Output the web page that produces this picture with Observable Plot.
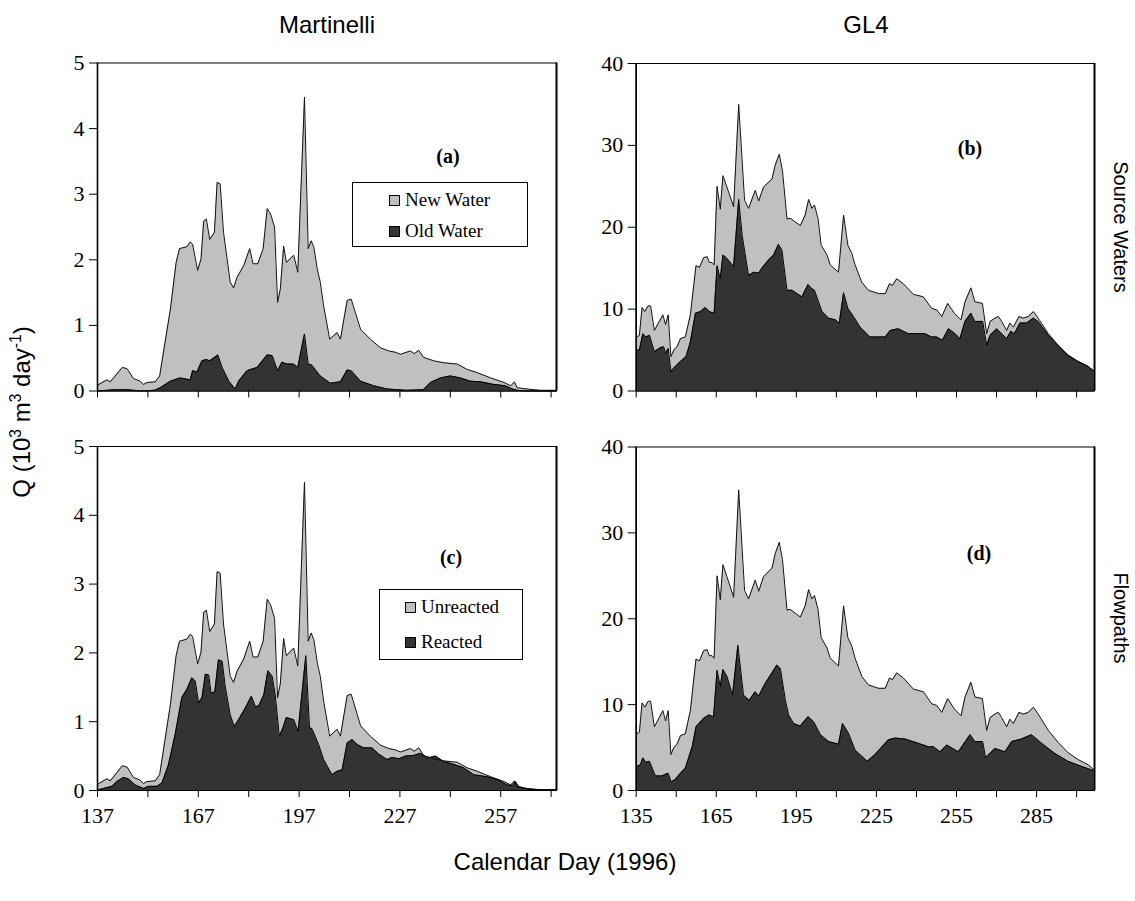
<!DOCTYPE html>
<html><head><meta charset="utf-8">
<script src="https://cdn.jsdelivr.net/npm/d3@7"></script>
<script src="https://cdn.jsdelivr.net/npm/@observablehq/plot@0.6"></script>
<style>
body{margin:0;background:#fff;}
#wrap{position:relative;width:1135px;height:901px;overflow:hidden;background:#fff;}
.abs{position:absolute;white-space:nowrap;color:#000;}
.sans{font-family:"Liberation Sans",Arial,sans-serif;font-size:24px;}
.serif{font-family:"Liberation Serif","Times New Roman",serif;}
.legend{position:absolute;border:1px solid #000;background:#fff;box-sizing:border-box;}
.entry{position:absolute;display:flex;align-items:center;height:24px;font-family:"Liberation Serif","Times New Roman",serif;font-size:19px;white-space:nowrap;}
.sw{display:inline-block;width:11px;height:11px;border:1px solid #000;margin-right:5px;box-sizing:border-box;}
.lbl{font-family:"Liberation Serif","Times New Roman",serif;font-weight:bold;font-size:20px;transform:translate(-50%,-50%);}
sup{font-size:65%;vertical-align:super;line-height:0;}
</style></head><body><div id="wrap"></div>
<script>
// ---------- Martinelli (days 137–274) ----------
const martTotalDays = [137,139.8,140.8,144.4,145.8,147.7,149.7,150.7,151.7,154.2,155.5,158.7,160.4,161.4,163.6,164.6,165.3,166.8,167.8,168.6,169.4,170.4,171.8,172.6,173.5,174.5,176.5,177.5,178.5,180.5,182.3,183.3,184.7,186.3,187.5,188.5,189.7,190.6,191.4,192.4,193.2,195.4,196.6,198.6,199.7,200.6,201.4,202.4,203.3,204.3,206.1,208.3,209.3,211.3,212.5,215.3,218.2,221.2,223.7,225.7,227.2,230.1,231.3,232.6,234.1,237.1,240.1,244.1,247,250,254,258,260,261.1,261.9,264.9,268.9,273.5];
const martTotal = [0.09,0.17,0.14,0.36,0.34,0.19,0.15,0.10,0.13,0.14,0.23,1.25,1.96,2.17,2.20,2.27,2.24,1.84,2.01,2.59,2.62,2.31,2.42,3.18,3.16,2.42,1.66,1.57,1.73,1.91,2.17,1.94,1.94,2.17,2.78,2.70,2.50,1.35,1.55,2.21,1.96,2.07,1.81,4.48,2.17,2.29,2.19,1.86,1.66,1.30,0.79,0.89,0.79,1.38,1.40,0.94,0.79,0.66,0.61,0.59,0.56,0.61,0.57,0.62,0.51,0.46,0.43,0.41,0.33,0.28,0.20,0.13,0.08,0.14,0.05,0.03,0.01,0.01];

const martOldDays = [137,142,146,150,154,155.7,158.7,161.6,164.6,165.3,166.6,168.1,169.4,170.4,171.8,172.8,174.1,176.1,178.0,179.0,181.5,184.5,187.5,189.0,190.6,191.9,193.4,195.4,196.6,198.6,199.7,200.7,203.3,206.3,209.3,211.3,212.5,215.3,219.2,223.2,229,234,236.1,239.1,242,245,248,251,255,258.4,260.5,262,264,273.5];
const martOld = [0,0.02,0.02,0,0.01,0.05,0.15,0.20,0.17,0.31,0.29,0.46,0.48,0.46,0.51,0.55,0.36,0.15,0.03,0.15,0.31,0.36,0.55,0.54,0.31,0.44,0.41,0.41,0.36,0.87,0.41,0.40,0.23,0.12,0.14,0.32,0.31,0.15,0.08,0.03,0.01,0.02,0.13,0.20,0.23,0.20,0.15,0.14,0.10,0.08,0.03,0.01,0,0];

const martReactedDays = [137.3,138.8,141.3,142.8,144.7,146.2,148.2,150.7,152.2,154.7,156.2,158.1,160.1,162.1,163.6,165.1,166.1,167.1,168.1,169.1,170.1,170.8,171.9,173.0,174.1,175.0,176.5,177.7,179.0,181.0,182.8,184.0,185.0,186.5,187.7,189.0,189.9,191.1,192.2,193.2,195.4,196.7,199.0,200.1,200.8,202.8,204.3,206.8,208.3,209.8,211.3,212.8,214.3,216.2,218.7,220.7,223.2,224.7,226.7,228.7,231.1,233.1,235.1,237.6,240.1,243.0,246.0,249.0,253.0,256,259,260.5,261.4,262.3,264.9,268,273.5];
const martReacted = [0.01,0.03,0.06,0.13,0.19,0.17,0.08,0.03,0.06,0.06,0.11,0.37,0.81,1.35,1.47,1.64,1.59,1.27,1.35,1.69,1.68,1.42,1.43,1.90,1.88,1.52,1.10,0.93,1.03,1.20,1.37,1.22,1.23,1.39,1.74,1.66,1.39,0.79,0.91,1.06,1.03,0.86,1.96,0.91,0.90,0.67,0.45,0.23,0.28,0.30,0.69,0.74,0.67,0.62,0.62,0.53,0.45,0.48,0.46,0.50,0.51,0.54,0.47,0.50,0.42,0.38,0.33,0.23,0.20,0.16,0.08,0.07,0.13,0.06,0.02,0.01,0.01];

// ---------- GL4 (days 135–307) ----------
const glTotalDays = [135.2,136.2,137.2,138.2,139.5,140.4,141.8,143.5,145,146,147,148,149.1,150.3,151.6,153.4,155.3,157.4,158.7,160.3,161.6,162.4,163.4,164.2,165.3,166.5,167.5,169.0,171.5,173.4,175.6,177.1,179.6,180.9,182.7,185.9,187.1,188.6,189.8,191.5,192.7,196.5,198.3,199.6,200.8,201.8,203.1,204.3,206.5,207.7,210.8,212.7,214.3,215.8,217.0,219.5,222.0,225.8,228.3,229.9,231.0,232.6,235.1,238.9,242.6,245.7,247.6,249.5,251.7,254.2,256.7,258.2,260.4,261.9,264.7,266.3,267.6,269.4,270.7,271.9,273.8,275.0,276.3,278.4,280.0,281.9,283.8,285.6,289.4,293.1,296.8,300.6,304.3,306.6];
const glTotal = [6.6,6.8,10.2,9.7,10.4,10.4,7.4,8.4,9.3,8.1,9.3,4.2,5.0,5.4,6.4,6.6,9.3,15.3,15.1,16.3,16.4,15.7,15.7,15.4,25.0,22.2,26.3,24.9,22.5,35.0,23.3,22.3,24.5,23.2,24.9,25.9,27.6,28.9,26.9,21.0,21.1,20.2,21.5,23.4,22.3,22.7,21.1,17.8,16.6,15.4,14.5,21.5,17.8,16.8,15.4,13.3,12.3,11.9,11.9,13.1,12.9,13.7,13.1,11.8,11.5,10.1,9.9,9.1,10.7,9.5,8.7,10.9,12.6,10.9,10.7,7.0,8.5,8.9,9.1,8.5,7.4,8.3,7.8,9.1,8.9,9.1,9.7,8.9,7.0,5.6,4.4,3.6,3.0,2.4];

const glOldDays = [135.2,136.2,137.5,138.7,140.0,141.8,144.1,145.3,146.0,147.0,148.0,149.7,151.6,153.7,155.3,157.2,159.1,160.9,162.4,164.2,165.3,166.5,167.5,169.0,171.5,173.4,174.7,177.1,179.0,180.9,182.1,184.6,186.5,188.3,189.6,191.5,193.4,197.1,199.4,200.8,201.8,204.6,207.1,209.6,211.1,212.7,214.3,216.4,218.9,220.8,222.6,228.3,230.2,233.2,237.0,243.2,245.7,247.6,249.7,252.0,254.5,256.3,258.2,260.4,261.9,264.8,266.3,267.6,270.1,271.9,273.8,275.4,276.7,278.8,281.3,283.8,285.6,289.4,293.1,296.8,300.6,304.3,306.6];
const glOld = [5.0,5.0,7.0,6.6,6.8,4.8,5.3,5.4,4.6,5.2,2.4,3.0,3.6,4.2,6.0,9.5,9.7,10.2,9.7,9.5,15.3,13.7,16.6,16.2,15.2,23.4,19.0,14.1,14.5,14.4,15.0,16.0,16.6,17.9,17.2,12.3,12.3,11.5,13.0,12.5,12.3,9.7,8.9,8.7,8.3,12.0,10.1,9.1,7.8,7.2,6.6,6.6,7.4,7.6,7.0,7.0,6.6,6.6,6.2,7.6,7.0,6.4,8.5,9.5,8.5,8.5,5.6,6.8,7.6,7.0,6.4,7.3,7.0,8.3,8.3,8.9,8.5,6.8,5.5,4.3,3.6,3.0,2.4];

const glReactedDays = [135.2,136.6,137.5,138.5,140.0,141.0,142.2,144.7,146.0,147.0,148.1,149.7,151.6,153.4,156.0,157.4,160.3,162.2,164.0,165.3,166.5,167.5,169.0,171.1,173.1,175.2,177.4,179.6,180.9,183.4,185.9,187.7,189.0,190.9,192.1,194.0,196.5,199.4,201.5,204.0,207.1,210.8,212.3,214.5,217.0,219.5,221.6,224.5,229.5,232.0,235.7,240.7,244.5,246.4,248.9,251.4,255.7,260.1,261.9,264.8,265.9,269.4,273.2,275.7,279.4,283.1,286.9,291.9,296.8,301.9,306.6];
const glReacted = [2.8,3.0,3.8,3.3,3.4,2.6,1.7,1.7,1.9,2.0,1.0,1.3,2.0,2.6,5.1,7.4,8.4,8.8,8.6,14.0,12.1,14.1,13.3,11.1,16.9,11.1,10.5,11.5,11.0,12.5,13.7,14.6,14.2,10.5,8.8,7.8,7.5,8.6,8.0,6.5,5.7,5.4,7.8,6.7,4.7,4.0,3.4,4.2,5.9,6.1,6.0,5.5,5.1,5.1,4.5,5.3,4.5,6.5,5.7,5.7,3.8,4.9,4.5,5.7,6.0,6.5,5.5,4.3,3.4,2.8,2.3];

// ---------- axes ----------
const martDomain = [137, 273.6];
const glDomain = [135, 306.7];
const martTicks = [137,152,167,182,197,212,227,242,257,272];
const martTickLabels = [137,167,197,227,257];
const glTicks = [135,150,165,180,195,210,225,240,255,270,285,300];
const glTickLabels = [135,165,195,225,255,285];
const martYTicks = [0,1,2,3,4,5];
const glYTicks = [0,10,20,30,40];

const LIGHT = "#c0c0c0", DARK = "#333333";
const toRows = (days, vals) => days.map((d, i) => ({day: d, q: vals[i]}));

function panel({total, lower, xDomain, yDomain, yTicks, xTicks, xLabels, showLabels, width, height, m}) {
  return Plot.plot({
    width, height,
    marginLeft: m[0], marginRight: m[1], marginTop: m[2], marginBottom: m[3],
    x: {domain: xDomain},
    y: {domain: yDomain},
    style: {background: "transparent", fontFamily: "'Liberation Serif','Times New Roman',serif", fontSize: "22px", color: "#000", overflow: "visible"},
    marks: [
      Plot.areaY(total, {x: "day", y: "q", fill: LIGHT}),
      Plot.areaY(lower, {x: "day", y: "q", fill: DARK}),
      Plot.lineY(total, {x: "day", y: "q", stroke: "#111", strokeWidth: 1}),
      Plot.lineY(lower, {x: "day", y: "q", stroke: "#000", strokeWidth: 1}),
      Plot.frame({stroke: "#000", strokeWidth: 1}),
      Plot.ruleX([xDomain[0]], {stroke: "#000", strokeWidth: 1.6}),
      Plot.ruleX([xDomain[1]], {stroke: "#000", strokeWidth: 2}),
      Plot.ruleY([0], {stroke: "#000", strokeWidth: 1.2}),
      Plot.axisY({ticks: yTicks, tickSize: 8, tickPadding: 5, label: null, tickFormat: d => String(d), fontSize: 22}),
      Plot.axisX({ticks: xTicks, tickSize: 7, tickPadding: 10, label: null, fontSize: 22,
        tickFormat: d => (showLabels && xLabels.includes(d)) ? String(d) : ""})
    ]
  });
}

const wrap = document.getElementById("wrap");
function place(el, left, top) {
  el.style.position = "absolute"; el.style.left = left + "px"; el.style.top = top + "px";
  wrap.appendChild(el);
}

place(panel({total: toRows(martTotalDays, martTotal), lower: toRows(martOldDays, martOld),
  xDomain: martDomain, yDomain: [0, 5], yTicks: martYTicks, xTicks: martTicks, xLabels: martTickLabels, showLabels: false,
  width: 570, height: 375, m: [97, 14, 22.5, 24.5]}), 0, 40);
place(panel({total: toRows(glTotalDays, glTotal), lower: toRows(glOldDays, glOld),
  xDomain: glDomain, yDomain: [0, 40], yTicks: glYTicks, xTicks: glTicks, xLabels: glTickLabels, showLabels: false,
  width: 540, height: 375, m: [55.7, 26, 23, 24.5]}), 580, 40);
place(panel({total: toRows(martTotalDays, martTotal), lower: toRows(martReactedDays, martReacted),
  xDomain: martDomain, yDomain: [0, 5], yTicks: martYTicks, xTicks: martTicks, xLabels: martTickLabels, showLabels: true,
  width: 570, height: 420, m: [97, 14, 26, 50]}), 0, 420);
place(panel({total: toRows(glTotalDays, glTotal), lower: toRows(glReactedDays, glReacted),
  xDomain: glDomain, yDomain: [0, 40], yTicks: glYTicks, xTicks: glTicks, xLabels: glTickLabels, showLabels: true,
  width: 540, height: 420, m: [55.7, 26, 26.5, 50]}), 580, 420);

// ---------- texts ----------
function addHTML(html) { const d = document.createElement("div"); d.innerHTML = html; wrap.appendChild(d.firstElementChild); }
addHTML(`<div class="abs sans" style="left:327px;top:25px;transform:translate(-50%,-50%)">Martinelli</div>`);
addHTML(`<div class="abs sans" style="left:866px;top:25px;transform:translate(-50%,-50%)">GL4</div>`);
addHTML(`<div class="abs sans" style="left:565px;top:862px;transform:translate(-50%,-50%)">Calendar Day (1996)</div>`);
addHTML(`<div class="abs sans" style="left:22px;top:412px;transform:translate(-50%,-50%) rotate(-90deg)">Q (10<sup>3</sup> m<sup>3</sup> day<sup>-1</sup>)</div>`);
addHTML(`<div class="abs sans" style="left:1120px;top:227px;transform:translate(-50%,-50%) rotate(90deg);font-size:20px">Source Waters</div>`);
addHTML(`<div class="abs sans" style="left:1120px;top:618px;transform:translate(-50%,-50%) rotate(90deg);font-size:20px">Flowpaths</div>`);

addHTML(`<div class="abs lbl" style="left:448px;top:156px">(a)</div>`);
addHTML(`<div class="abs lbl" style="left:970px;top:148px">(b)</div>`);
addHTML(`<div class="abs lbl" style="left:451px;top:557px">(c)</div>`);
addHTML(`<div class="abs lbl" style="left:979px;top:553px">(d)</div>`);

// legends
addHTML(`<div class="legend" style="left:352px;top:182px;width:176px;height:65px"></div>`);
addHTML(`<div class="entry" style="left:389px;top:188px"><span class="sw" style="background:${LIGHT}"></span>New Water</div>`);
addHTML(`<div class="entry" style="left:389px;top:219px"><span class="sw" style="background:${DARK}"></span>Old Water</div>`);
addHTML(`<div class="legend" style="left:379px;top:589px;width:144px;height:71px"></div>`);
addHTML(`<div class="entry" style="left:405px;top:595px"><span class="sw" style="background:${LIGHT}"></span>Unreacted</div>`);
addHTML(`<div class="entry" style="left:405px;top:630px"><span class="sw" style="background:${DARK}"></span>Reacted</div>`);
</script>
</body></html>
